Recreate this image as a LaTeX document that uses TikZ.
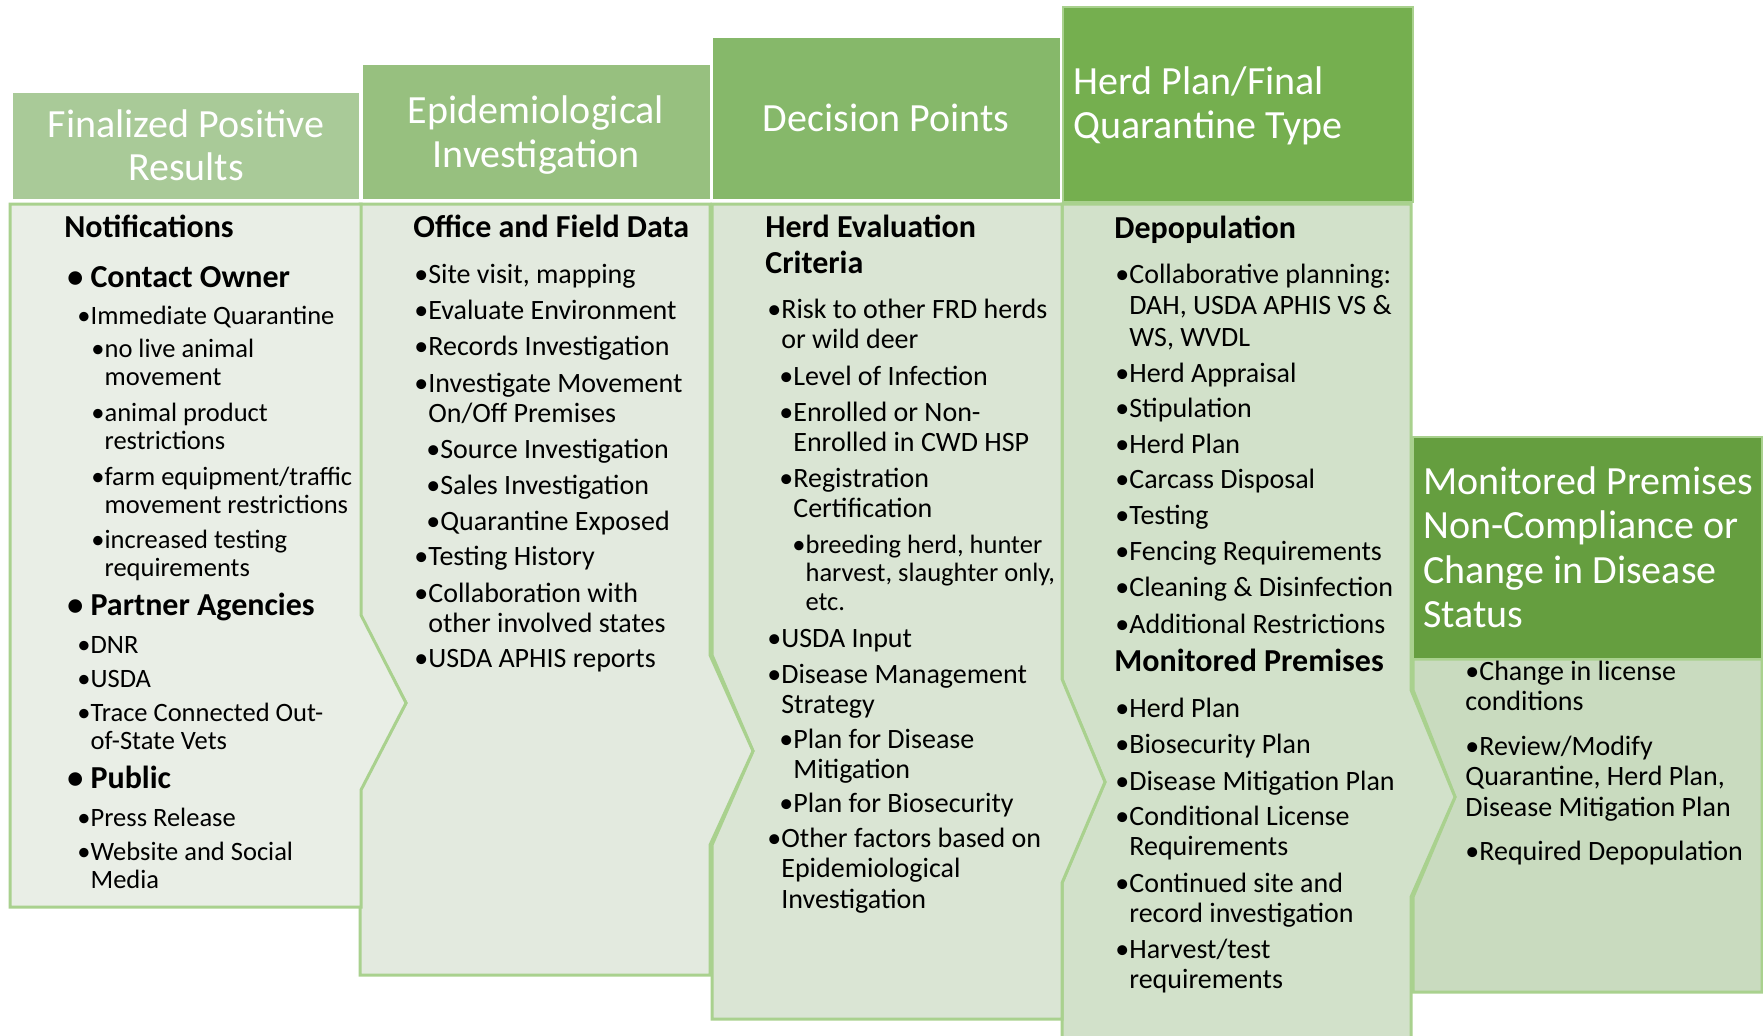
\documentclass[tikz,border=0pt]{standalone}
\usepackage{fontspec}
\setmainfont{Carlito}
\definecolor{edge}{HTML}{A9D18E}
\definecolor{headA}{HTML}{A9CA98}
\definecolor{headB}{HTML}{97C07F}
\definecolor{headC}{HTML}{86B86A}
\definecolor{headD}{HTML}{75AF4F}
\definecolor{headE}{HTML}{659E3F}
\definecolor{bodyA}{HTML}{E9EEE6}
\definecolor{bodyB}{HTML}{E3EADF}
\definecolor{bodyC}{HTML}{DAE5D4}
\definecolor{bodyD}{HTML}{D2E1CA}
\definecolor{bodyE}{HTML}{C9DBBF}
\newcommand{\stk}[2][l]{\begin{tabular}[t]{@{}#1@{}}#2\end{tabular}}
\newcommand{\bul}{\textbullet}

\begin{document}
\begin{tikzpicture}[x=0.5pt,y=-0.5pt,
  panel/.style={draw=edge,line width=1.5pt},
  hbox/.style={draw=white,line width=1pt},
  htext/.style={inner sep=0pt,text=white,font=\fontsize{20}{21.75}\selectfont},
  title/.style={anchor=base west,inner sep=0pt,font=\bfseries\fontsize{16}{18}\selectfont},
  lead/.style={anchor=base west,inner sep=0pt,font=\bfseries\fontsize{16}{19}\selectfont},
  item/.style={anchor=base west,inner sep=0pt,font=\fontsize{14}{15.25}\selectfont},
  sub/.style={anchor=base west,inner sep=0pt,font=\fontsize{13.25}{14.25}\selectfont}]
\useasboundingbox (0,0) rectangle (1763,1035);
\clip (0,0) rectangle (1763,1035);
\fill[white] (0,0) rectangle (1763,1035);

% body panels, right to left
\draw[panel,fill=bodyE] (1413,659) -- (1762,659) -- (1762,992) -- (1413,992) -- (1413,897)
  -- (1455,797) -- (1413,690) -- cycle;
\draw[panel,fill=bodyD] (1062,204) -- (1411,204) -- (1411,690) -- (1455,797) -- (1411,897)
  -- (1411,1045) -- (1062,1045) -- (1062,883) -- (1105,782) -- (1062,679) -- cycle;
\draw[panel,fill=bodyC] (712,204) -- (1062,204) -- (1062,679) -- (1105,782) -- (1062,883)
  -- (1062,1019) -- (712,1019) -- (712,845) -- (753,751) -- (712,655) -- cycle;
\draw[panel,fill=bodyB] (360,204) -- (710,204) -- (710,655) -- (753,751) -- (710,845)
  -- (710,975) -- (360,975) -- (360,790) -- (406,703) -- (360,615) -- cycle;
\draw[panel,fill=bodyA] (10,204) -- (361,204) -- (361,615) -- (406,703) -- (361,790)
  -- (361,907) -- (10,907) -- cycle;

% headers
\draw[hbox,fill=headA] (12,92) rectangle (360,200);
\draw[hbox,fill=headB] (362,64) rectangle (711,200);
\draw[hbox,fill=headC] (712,37) rectangle (1061,200);
\draw[hbox,draw=edge,fill=headD] (1063,7) rectangle (1413,202);
\draw[hbox,draw=edge,fill=headE] (1413,437) rectangle (1762,659);

\node[htext,anchor=base] (h1) at (186,137) {\stk[c]{Finalized Positive\\Results}};
\node[htext,anchor=base,font=\fontsize{20}{22}\selectfont] (h2) at (536,123) {\stk[c]{Epidemiological\\Investigation}};
\node[htext,anchor=base] (h3) at (886,131) {Decision Points};
\node[htext,anchor=base west,font=\fontsize{20}{22.25}\selectfont] (h4) at (1073,94) {\stk{Herd Plan/Final\\Quarantine Type}};
\node[htext,anchor=base west,font=\fontsize{20}{22.25}\selectfont] (h5) at (1423,494) {\stk{Monitored Premises\\Non-Compliance or\\Change in Disease\\Status}};

% column 1
\node[title] (t11) at (64,237) {Notifications};
\node[lead] (t12) at (67,287) {\bul\ Contact Owner};
\node[sub] (t13) at (77,324) {\bul Immediate Quarantine};
\node[sub] (t14) at (91,357) {\bul\stk{no live animal\\movement}};
\node[sub] (t15) at (91,421) {\bul\stk{animal product\\restrictions}};
\node[sub] (t16) at (91,485) {\bul\stk{farm equipment/traffic\\movement restrictions}};
\node[sub] (t17) at (91,548) {\bul\stk{increased testing\\requirements}};
\node[lead] (t18) at (67,615) {\bul\ Partner Agencies};
\node[sub] (t19) at (77,653) {\bul DNR};
\node[sub] (t1a) at (77,687) {\bul USDA};
\node[sub] (t1b) at (77,721) {\bul\stk{Trace Connected Out-\\of-State Vets}};
\node[lead] (t1c) at (67,788) {\bul\ Public};
\node[sub] (t1d) at (77,826) {\bul Press Release};
\node[sub] (t1e) at (77,860) {\bul\stk{Website and Social\\Media}};

% column 2
\node[title] (t21) at (413,237) {Office and Field Data};
\node[item] (t22) at (414,283) {\bul Site visit, mapping};
\node[item] (t23) at (414,319) {\bul Evaluate Environment};
\node[item] (t24) at (414,355) {\bul Records Investigation};
\node[item] (t25) at (414,392) {\bul\stk{Investigate Movement\\On/Off Premises}};
\node[item] (t26) at (426,458) {\bul Source Investigation};
\node[item] (t27) at (426,494) {\bul Sales Investigation};
\node[item] (t28) at (426,530) {\bul Quarantine Exposed};
\node[item] (t29) at (414,565) {\bul Testing History};
\node[item] (t2a) at (414,602) {\bul\stk{Collaboration with\\other involved states}};
\node[item] (t2b) at (414,667) {\bul USDA APHIS reports};

% column 3
\node[title] (t31) at (765,237) {\stk{Herd Evaluation\\Criteria}};
\node[item] (t32) at (767,318) {\bul\stk{Risk to other FRD herds\\or wild deer}};
\node[item] (t33) at (779,385) {\bul Level of Infection};
\node[item] (t34) at (779,421) {\bul\stk{Enrolled or Non-\\Enrolled in CWD HSP}};
\node[item] (t35) at (779,487) {\bul\stk{Registration\\Certification}};
\node[sub] (t36) at (792,553) {\bul\stk{breeding herd, hunter\\harvest, slaughter only,\\etc.}};
\node[item] (t37) at (767,647) {\bul USDA Input};
\node[item] (t38) at (767,683) {\bul\stk{Disease Management\\Strategy}};
\node[item] (t39) at (779,748) {\bul\stk{Plan for Disease\\Mitigation}};
\node[item] (t3a) at (779,812) {\bul Plan for Biosecurity};
\node[item] (t3b) at (767,847) {\bul\stk{Other factors based on\\Epidemiological\\Investigation}};

% column 4
\node[title] (t41) at (1114,238) {Depopulation};
\node[item,font=\fontsize{14}{15.75}\selectfont] (t42) at (1115,283) {\bul\stk{Collaborative planning:\\DAH, USDA APHIS VS \&\\WS, WVDL}};
\node[item] (t43) at (1115,382) {\bul Herd Appraisal};
\node[item] (t44) at (1115,417) {\bul Stipulation};
\node[item] (t45) at (1115,453) {\bul Herd Plan};
\node[item] (t46) at (1115,488) {\bul Carcass Disposal};
\node[item] (t47) at (1115,524) {\bul Testing};
\node[item] (t48) at (1115,560) {\bul Fencing Requirements};
\node[item] (t49) at (1115,596) {\bul Cleaning \& Disinfection};
\node[item] (t4a) at (1115,633) {\bul Additional Restrictions};
\node[title] (t4b) at (1114,671) {Monitored Premises};
\node[item] (t4c) at (1115,717) {\bul Herd Plan};
\node[item] (t4d) at (1115,753) {\bul Biosecurity Plan};
\node[item] (t4e) at (1115,790) {\bul Disease Mitigation Plan};
\node[item] (t4f) at (1115,825) {\bul\stk{Conditional License\\Requirements}};
\node[item] (t4g) at (1115,892) {\bul\stk{Continued site and\\record investigation}};
\node[item] (t4h) at (1115,958) {\bul\stk{Harvest/test\\requirements}};

% column 5
\node[item] (t51) at (1465,680) {\stk{\bul Change in license\\conditions}};
\node[item] (t52) at (1465,755) {\stk{\bul Review/Modify\\Quarantine, Herd Plan,\\Disease Mitigation Plan}};
\node[item] (t53) at (1465,860) {\bul Required Depopulation};
\end{tikzpicture}
\end{document}
